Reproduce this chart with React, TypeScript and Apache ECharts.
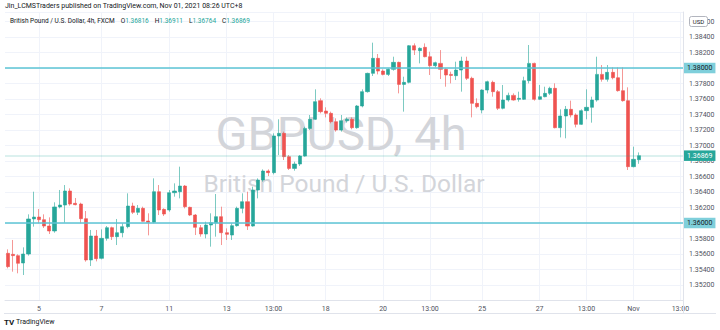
import React, { useEffect, useRef } from 'react';
import * as echarts from 'echarts';

const categories: string[] = Array.from({ length: 130 }, (_, i) => `k${i}`);

const opens = [
  1.35609, 1.35596, 1.35579, 1.35484, 1.356, 1.36052, 1.36077, 1.36043, 1.35961, 1.35897,
  1.36207, 1.36232, 1.36413, 1.36254, 1.36245, 1.36056, 1.35523, 1.35832, 1.35544, 1.35802,
  1.3594, 1.35824, 1.35875, 1.35953, 1.36219, 1.36138, 1.36189, 1.36026, 1.36009, 1.36404,
  1.36176, 1.36168, 1.36391, 1.36404, 1.36477, 1.36202, 1.36103, 1.3594, 1.35858, 1.35974,
  1.36004, 1.36082, 1.35875, 1.35845, 1.35966, 1.36189, 1.36275, 1.35961, 1.36426, 1.36555,
  1.36671, 1.3665, 1.37123, 1.37157, 1.36856, 1.36705, 1.36761, 1.36864, 1.37221, 1.37338,
  1.37579, 1.37445, 1.37415, 1.37308, 1.372, 1.3732, 1.37338, 1.3723, 1.3751, 1.37695,
  1.37931, 1.38125, 1.37961, 1.37918, 1.37983, 1.38073, 1.37789, 1.37815, 1.38288, 1.38224,
  1.38267, 1.38146, 1.3803, 1.3806, 1.37983, 1.37918, 1.37901, 1.37974, 1.3809, 1.37867,
  1.37544, 1.37458, 1.37716, 1.37815, 1.37695, 1.3748, 1.37587, 1.37647, 1.37596, 1.37596,
  1.37837, 1.3806, 1.37596, 1.3763, 1.37673, 1.37738, 1.3723, 1.37381, 1.37467, 1.37394,
  1.37273, 1.3745, 1.37493, 1.37587, 1.37918, 1.37854, 1.37944, 1.37875, 1.37708, 1.37579,
  1.36727, 1.36816,
];
const closes = [
  1.35437, 1.35579, 1.3548, 1.356, 1.36052, 1.36077, 1.36043, 1.35961, 1.35897, 1.36207,
  1.36232, 1.36413, 1.36245, 1.36237, 1.36056, 1.35523, 1.35832, 1.3554, 1.35802, 1.3594,
  1.35824, 1.35875, 1.35953, 1.36219, 1.36138, 1.36189, 1.36022, 1.36009, 1.36404, 1.36168,
  1.36116, 1.36391, 1.36413, 1.36477, 1.36211, 1.36103, 1.35944, 1.35858, 1.35974, 1.36004,
  1.36082, 1.35875, 1.35854, 1.35966, 1.36189, 1.36275, 1.35961, 1.36426, 1.36555, 1.36671,
  1.3665, 1.37123, 1.37157, 1.36856, 1.36705, 1.36761, 1.36864, 1.37221, 1.37338, 1.37566,
  1.37437, 1.37415, 1.37308, 1.372, 1.3732, 1.37338, 1.3723, 1.3751, 1.37695, 1.37931,
  1.38125, 1.37961, 1.37918, 1.37983, 1.38073, 1.37789, 1.37815, 1.38288, 1.38232, 1.38254,
  1.38146, 1.3803, 1.38069, 1.37983, 1.3791, 1.37905, 1.37974, 1.3809, 1.37867, 1.37544,
  1.37501, 1.37716, 1.37824, 1.37695, 1.3748, 1.37587, 1.37647, 1.37587, 1.37609, 1.37837,
  1.3806, 1.37596, 1.3763, 1.37673, 1.37738, 1.3723, 1.37381, 1.37467, 1.37394, 1.37273,
  1.3745, 1.37493, 1.37587, 1.37918, 1.37854, 1.37944, 1.37875, 1.37708, 1.37579, 1.36727,
  1.36822, 1.36869,
];
const lows = [
  1.35415, 1.35372, 1.35351, 1.35329, 1.35579, 1.35953, 1.35996, 1.35936, 1.35858, 1.35875,
  1.36189, 1.36004, 1.36224, 1.36228, 1.35996, 1.35501, 1.35445, 1.35505, 1.35531, 1.35772,
  1.35781, 1.35716, 1.35815, 1.35931, 1.36116, 1.36103, 1.36017, 1.35841, 1.35996, 1.36103,
  1.3609, 1.36146, 1.3634, 1.36318, 1.36189, 1.3609, 1.35845, 1.35824, 1.35802, 1.35695,
  1.35824, 1.35716, 1.35781, 1.35781, 1.35953, 1.36125, 1.3591, 1.35953, 1.36318, 1.36533,
  1.36606, 1.36628, 1.36877, 1.36813, 1.36684, 1.36675, 1.36736, 1.36856, 1.372, 1.37329,
  1.37415, 1.37363, 1.37286, 1.37179, 1.37179, 1.37295, 1.37209, 1.37217, 1.37493, 1.37682,
  1.37897, 1.37918, 1.37905, 1.37897, 1.37966, 1.37673, 1.37437, 1.37802, 1.38168, 1.3806,
  1.38138, 1.3791, 1.38009, 1.37858, 1.37759, 1.37802, 1.37845, 1.37695, 1.37845, 1.37363,
  1.3748, 1.37415, 1.37673, 1.3763, 1.37458, 1.37467, 1.37566, 1.37579, 1.37566, 1.37587,
  1.37802, 1.37579, 1.37587, 1.37622, 1.37652, 1.37222, 1.37105, 1.37093, 1.37363, 1.37234,
  1.37265, 1.37338, 1.37295, 1.37566, 1.37824, 1.37824, 1.37854, 1.37695, 1.37566, 1.36684,
  1.36718, 1.36764,
];
const highs = [
  1.3566, 1.35781, 1.35596, 1.35686, 1.36112, 1.36404, 1.36181, 1.36112, 1.36073, 1.36267,
  1.36426, 1.3649, 1.36447, 1.36323, 1.36262, 1.36155, 1.3591, 1.3591, 1.35918, 1.35961,
  1.35953, 1.36052, 1.35996, 1.36383, 1.36262, 1.36232, 1.36211, 1.36125, 1.36576, 1.3649,
  1.36189, 1.36426, 1.36512, 1.36727, 1.3649, 1.36211, 1.36116, 1.35974, 1.36017, 1.36125,
  1.36374, 1.36211, 1.35931, 1.35996, 1.36211, 1.36383, 1.36404, 1.36469, 1.36576, 1.36692,
  1.36692, 1.37157, 1.37338, 1.37179, 1.36877, 1.36791, 1.36877, 1.37243, 1.37394, 1.37725,
  1.37609, 1.37493, 1.37437, 1.37351, 1.37394, 1.37363, 1.37363, 1.37523, 1.37725, 1.3794,
  1.38327, 1.38181, 1.37983, 1.37996, 1.38146, 1.38082, 1.37888, 1.38297, 1.38318, 1.38267,
  1.38318, 1.38211, 1.38082, 1.38232, 1.37996, 1.37953, 1.38082, 1.38146, 1.38146, 1.37888,
  1.37609, 1.37725, 1.37837, 1.37837, 1.37716, 1.37781, 1.37682, 1.37673, 1.37695, 1.37888,
  1.38297, 1.38069, 1.37781, 1.37759, 1.37759, 1.37802, 1.37467, 1.3751, 1.37579, 1.37415,
  1.37467, 1.37725, 1.3763, 1.38146, 1.38039, 1.38039, 1.38009, 1.38009, 1.38009, 1.37751,
  1.36985, 1.36911,
];

const tickIndex = [6, 18, 31, 42, 51, 61, 72, 81, 91, 102, 111, 120, 129];
const tickLabels = ['5', '7', '11', '13', '13:00', '18', '20', '13:00', '25', '27', '13:00', 'Nov', '13:00'];

const levels = [1.38, 1.36];
const lastPrice = 1.36869;

const headerText = 'Jin_LCMSTraders published on TradingView.com, Nov 01, 2021 08:26 UTC+8';
const symbolTitle = 'British Pound / U.S. Dollar, 4h, FXCM';
const ohlcLabels = ['O', 'H', 'L', 'C'];
const ohlcValues = ['1.36816', '1.36911', '1.36764', '1.36869'];

const TEAL = '#26a69a';
const RED = '#ef5350';
const CYAN = '#5cc4d4';
const CYAN_BOX = '#7fcfdb';
const FONT = 'Roboto, "Noto Sans", sans-serif';

export default function App() {
  const ref = useRef<HTMLDivElement>(null);
  useEffect(() => {
    const chart = echarts.init(ref.current!, null, { renderer: 'svg' });
    const data = opens.map((o, i) => [o, closes[i], lows[i], highs[i]]);
    const labelAt = new Map<number, string>(tickIndex.map((idx, i) => [idx, tickLabels[i]]));

    const levelLine = (v: number, bg: string, fg: string, lineColor: string, width: number) => ({
      yAxis: v,
      lineStyle: { color: lineColor, width, type: 'solid' },
      label: {
        show: true,
        position: 'end',
        formatter: () => v.toFixed(5),
        backgroundColor: bg,
        color: fg,
        fontSize: 7,
        fontFamily: FONT,
        padding: [2, 3, 1.5, 3],
        distance: 1,
      },
    });

    let legendText = `{t|${symbolTitle}}  `;
    ohlcLabels.forEach((l, i) => {
      legendText += `{t|${l}}{v|${ohlcValues[i]}}  `;
    });

    chart.setOption({
      animation: false,
      textStyle: { fontFamily: FONT },
      grid: { left: 5, right: 37, top: 12, bottom: 29.5 },
      xAxis: {
        type: 'category',
        data: categories,
        boundaryGap: true,
        axisLine: { show: true, lineStyle: { color: '#e0e3eb' } },
        axisTick: { show: false },
        axisLabel: {
          interval: (i: number) => labelAt.has(i),
          formatter: (_v: string, i: number) => labelAt.get(i) ?? '',
          fontSize: 7,
          color: '#50535e',
          margin: 5,
          fontFamily: FONT,
        },
        splitLine: {
          show: true,
          interval: (i: number) => labelAt.has(i),
          alignWithLabel: true,
          lineStyle: { color: '#f0f3fa', width: 1 },
        },
      },
      yAxis: {
        type: 'value',
        position: 'right',
        min: 1.35,
        max: 1.38723,
        interval: 0.002,
        axisLine: { show: true, lineStyle: { color: '#e0e3eb' } },
        axisTick: { show: false },
        axisLabel: {
          fontSize: 7,
          color: '#50535e',
          margin: 6,
          fontFamily: FONT,
          formatter: (v: number) => {
            const k = Math.round(v / 0.002);
            if (Math.abs(v - k * 0.002) > 1e-7 || v < 1.3515) return '';
            if (levels.some((l) => Math.abs(l - v) < 1e-7)) return '';
            return v.toFixed(5);
          },
        },
        splitLine: { show: true, lineStyle: { color: '#f0f3fa', width: 1 } },
      },
      series: [
        {
          type: 'candlestick',
          data,
          barWidth: 3.6,
          itemStyle: {
            color: TEAL,
            color0: RED,
            borderColor: 'rgba(38,166,154,0.6)',
            borderColor0: 'rgba(239,83,80,0.6)',
            borderWidth: 1,
          },
          markLine: {
            symbol: 'none',
            silent: true,
            precision: 5,
            data: [
              levelLine(levels[0], CYAN_BOX, '#131722', CYAN, 1.5),
              levelLine(levels[1], CYAN_BOX, '#131722', CYAN, 1.5),
              levelLine(lastPrice, TEAL, '#ffffff', 'rgba(38,166,154,0.16)', 2),
            ],
          },
        },
      ],
      graphic: [
        {
          type: 'text',
          z: 1,
          x: 341,
          y: 133,
          style: {
            text: 'GBPUSD, 4h',
            fontSize: 47,
            fontFamily: FONT,
            fill: '#d3d5da',
            align: 'center',
            verticalAlign: 'middle',
          },
        },
        {
          type: 'text',
          z: 1,
          x: 344,
          y: 183,
          style: {
            text: 'British Pound / U.S. Dollar',
            fontSize: 24.5,
            fontFamily: FONT,
            fill: '#d3d5da',
            align: 'center',
            verticalAlign: 'middle',
          },
        },
        {
          type: 'text',
          z: 100,
          x: 5,
          y: 6,
          style: {
            text: headerText,
            fontSize: 7,
            fontFamily: FONT,
            fill: '#131722',
            verticalAlign: 'middle',
          },
        },
        {
          type: 'text',
          z: 100,
          x: 10,
          y: 21,
          style: {
            text: legendText,
            fontFamily: FONT,
            verticalAlign: 'middle',
            rich: {
              t: { fontSize: 6.5, fill: '#131722', fontFamily: FONT },
              v: { fontSize: 6.5, fill: TEAL, fontFamily: FONT },
            },
          },
        },
        {
          type: 'rect',
          z: 100,
          shape: { x: 689.5, y: 16.5, width: 18, height: 10, r: 2 },
          style: { fill: '#ffffff', stroke: '#b2b5be', lineWidth: 1 },
        },
        {
          type: 'text',
          z: 101,
          x: 698.5,
          y: 21.5,
          style: {
            text: 'USD',
            fontSize: 6,
            fontFamily: FONT,
            fill: '#131722',
            align: 'center',
            verticalAlign: 'middle',
          },
        },
        {
          type: 'line',
          z: 100,
          shape: { x1: 4, y1: 313.5, x2: 716, y2: 313.5 },
          style: { stroke: '#e0e3eb', lineWidth: 1 },
        },
        {
          type: 'line',
          z: 100,
          shape: { x1: 683.5, y1: 300, x2: 683.5, y2: 313.5 },
          style: { stroke: '#e0e3eb', lineWidth: 1 },
        },
        {
          type: 'text',
          z: 100,
          x: 4,
          y: 322,
          style: {
            text: 'TV',
            fontSize: 8,
            fontWeight: 'bold',
            fontFamily: FONT,
            fill: '#131722',
            verticalAlign: 'middle',
          },
        },
        {
          type: 'text',
          z: 100,
          x: 16,
          y: 322,
          style: {
            text: 'TradingView',
            fontSize: 7,
            fontFamily: FONT,
            fill: '#131722',
            verticalAlign: 'middle',
          },
        },
      ],
    });
    return () => chart.dispose();
  }, []);
  return <div ref={ref} style={{ position: 'absolute', left: 0, top: 0, width: 720, height: 330 }} />;
}
